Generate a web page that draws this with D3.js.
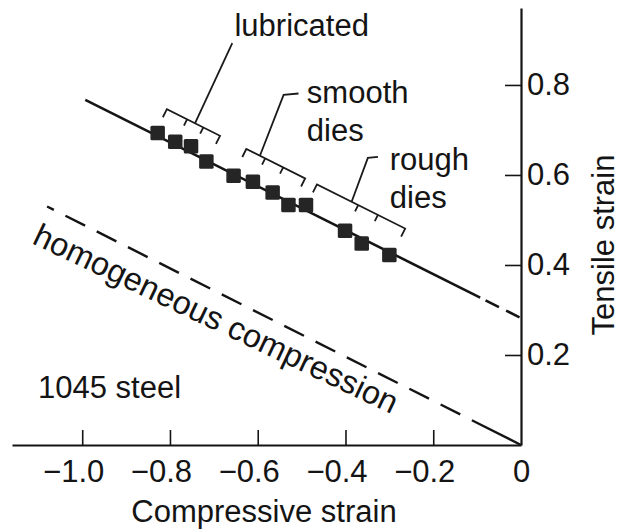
<!DOCTYPE html>
<html>
<head>
<meta charset="utf-8">
<script src="https://cdn.jsdelivr.net/npm/d3@7"></script>
<style>
  html, body { margin: 0; padding: 0; background: #fff; }
  svg { display: block; }
  text { font-family: "Liberation Sans", Arial, Helvetica, sans-serif; fill: #141414; }
</style>
</head>
<body>
<div id="chart"></div>
<script>
// ---------- data ----------
const xTicks = [-1.0, -0.8, -0.6, -0.4, -0.2, 0];
const yTicks = [0.2, 0.4, 0.6, 0.8];
const xTitle = "Compressive strain";
const yTitle = "Tensile strain";
const materialLabel = "1045 steel";
const homogeneousLabel = "homogeneous compression";

// measured points (compressive strain, tensile strain)
const lubricated = [[-0.828, 0.693], [-0.788, 0.674], [-0.752, 0.664], [-0.717, 0.630]];
const smoothDies = [[-0.655, 0.598], [-0.611, 0.585], [-0.566, 0.561], [-0.530, 0.533], [-0.490, 0.533]];
const roughDies  = [[-0.401, 0.476], [-0.363, 0.448], [-0.300, 0.422]];

// fracture line and homogeneous compression line
const fractureLine = [[-0.993, 0.767], [0, 0.282]];
const fractureDashFrom = -0.093;
const homogeneousLine = [[0, 0], [-1.08, 0.53]];

// brackets: mark positions along x, stem base x, stem path, label lines
const bracketNames = ["lubricated", "smooth dies", "rough dies"];
const bracketMarks = [[-0.807, -0.761, -0.724, -0.686], [-0.626, -0.583, -0.542, -0.492], [-0.465, -0.371, -0.326, -0.264]];
const bracketStemBase = [-0.743, -0.595, -0.386];
const bracketStemPath = [[[-0.658, 0.893]], [[-0.541, 0.778], [-0.507, 0.781]], [[-0.349, 0.638], [-0.326, 0.640]]];
const bracketLabelLines = [["lubricated"], ["smooth", "dies"], ["rough", "dies"]];
const bracketLabelPos = [[-0.653, 0.908], [-0.488, 0.759], [-0.299, 0.611]];
const bracketOffset = 0.07;

// ---------- layout ----------
const W = 622, H = 532;
const FS = 31;
const svg = d3.select("#chart").append("svg").attr("width", W).attr("height", H);

const x = d3.scaleLinear().domain([-1.16, 0]).range([12, 521]);
const y = d3.scaleLinear().domain([0, 0.971]).range([445, 8]);

const fracY = xv => {
  const [a, b] = fractureLine;
  return a[1] + (b[1] - a[1]) * (xv - a[0]) / (b[0] - a[0]);
};

// axes
const xAxis = d3.axisBottom(x).tickValues(xTicks).tickSizeInner(-15).tickSizeOuter(0).tickPadding(15)
  .tickFormat(d => d === 0 ? "0" : d3.format(".1f")(d));
const gx = svg.append("g").attr("transform", `translate(0,${y(0)})`).call(xAxis);
gx.select(".domain").attr("stroke", "#141414").attr("stroke-width", 2);
gx.selectAll(".tick line").attr("stroke", "#141414").attr("stroke-width", 1.6);
gx.selectAll(".tick text").attr("font-size", FS).attr("fill", "#141414")
  .attr("font-family", '"Liberation Sans", Arial, sans-serif')
  .attr("dx", d => d < 0 ? -9 : 0);
gx.selectAll(".tick").filter(d => d === 0).select("line").remove();

const yAxis = d3.axisRight(y).tickValues(yTicks).tickSizeInner(-16).tickSizeOuter(0).tickPadding(6)
  .tickFormat(d3.format(".1f"));
const gy = svg.append("g").attr("transform", `translate(${x(0)},0)`).call(yAxis);
gy.select(".domain").attr("stroke", "#141414").attr("stroke-width", 2.2);
gy.selectAll(".tick line").attr("stroke", "#141414").attr("stroke-width", 1.6);
gy.selectAll(".tick text").attr("font-size", FS).attr("fill", "#141414")
  .attr("font-family", '"Liberation Sans", Arial, sans-serif');

// axis titles
svg.append("text").attr("x", 264).attr("y", 522).attr("text-anchor", "middle")
  .attr("font-size", FS).text(xTitle);
svg.append("text").attr("transform", `translate(614,245) rotate(-90)`).attr("text-anchor", "middle")
  .attr("font-size", FS).text(yTitle);

const line = d3.line().x(d => x(d[0])).y(d => y(d[1]));

// homogeneous compression line (dashed)
let dash = [55];
for (let i = 0; i < 20; i++) dash.push(13, 22);
svg.append("path").attr("d", line(homogeneousLine)).attr("fill", "none")
  .attr("stroke", "#141414").attr("stroke-width", 2.4).attr("stroke-dasharray", dash.join(" "));

// fracture line: solid part + dashed part
svg.append("path").attr("d", line([fractureLine[0], [fractureDashFrom, fracY(fractureDashFrom)]]))
  .attr("fill", "none").attr("stroke", "#141414").attr("stroke-width", 2.6);
svg.append("path").attr("d", line([[fractureDashFrom, fracY(fractureDashFrom)], fractureLine[1]]))
  .attr("fill", "none").attr("stroke", "#141414").attr("stroke-width", 2.6)
  .attr("stroke-dasharray", "15 8").attr("stroke-dashoffset", 17);

// data squares
const allPts = [...lubricated, ...smoothDies, ...roughDies];
const S = 14.5;
svg.append("g").selectAll("rect").data(allPts).join("rect")
  .attr("x", d => x(d[0]) - S / 2).attr("y", d => y(d[1]) - S / 2)
  .attr("width", S).attr("height", S).attr("rx", 1.5)
  .attr("fill", "#252525");

// brackets
bracketMarks.forEach((marks, i) => {
  const g = svg.append("g").attr("fill", "none").attr("stroke", "#1a1a1a").attr("stroke-width", 1.8);
  const pts = marks.map(m => [x(m), y(fracY(m) + bracketOffset)]);
  const a = pts[0], b = pts[pts.length - 1];
  const len = Math.hypot(b[0] - a[0], b[1] - a[1]);
  const ux = (b[0] - a[0]) / len, uy = (b[1] - a[1]) / len;
  const nx = -uy, ny = ux;
  const nrm = ny > 0 ? [nx, ny] : [-nx, -ny];
  g.append("path").attr("d", d3.line()([
    [a[0] + nrm[0] * 9, a[1] + nrm[1] * 9], a, b, [b[0] + nrm[0] * 9, b[1] + nrm[1] * 9]
  ]));
  pts.slice(1, -1).forEach(p => {
    g.append("path").attr("d", d3.line()([p, [p[0] + nrm[0] * 7, p[1] + nrm[1] * 7]]));
  });
  const sb = bracketStemBase[i];
  const base = [x(sb), y(fracY(sb) + bracketOffset)];
  g.append("path").attr("d", d3.line()([base, ...bracketStemPath[i].map(d => [x(d[0]), y(d[1])])]));
  const lp = bracketLabelPos[i];
  const t = svg.append("text").attr("x", x(lp[0])).attr("y", y(lp[1])).attr("font-size", FS);
  bracketLabelLines[i].forEach((s, j) => {
    t.append("tspan").attr("x", x(lp[0])).attr("dy", j === 0 ? 0 : 38).text(s);
  });
});

// annotations
svg.append("text").attr("x", 38).attr("y", 398).attr("font-size", FS).text(materialLabel);
svg.append("text").attr("transform", "translate(31,243) rotate(25.4)")
  .attr("font-size", 32.5).text(homogeneousLabel);
</script>
</body>
</html>
